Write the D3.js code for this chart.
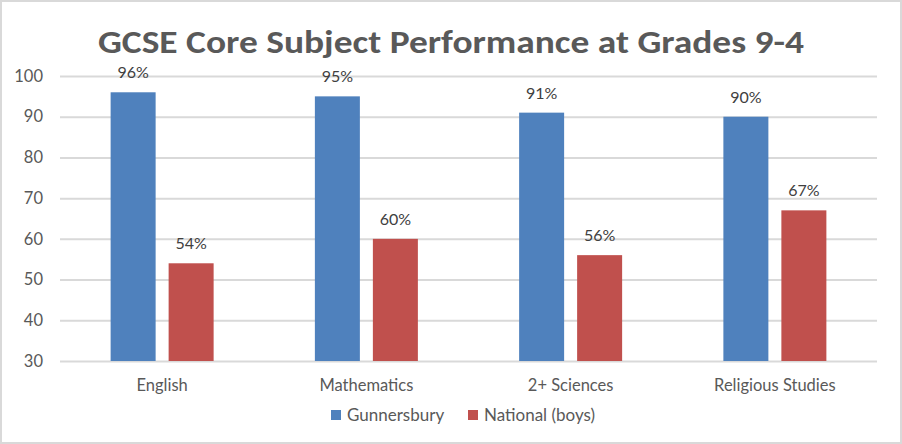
<!DOCTYPE html>
<html><head><meta charset="utf-8">
<script src="https://cdn.jsdelivr.net/npm/d3@7"></script>
<style>html,body{margin:0;padding:0;background:#fff;}svg{display:block;}</style>
</head><body>
<script>
const categories = ["English", "Mathematics", "2+ Sciences", "Religious Studies"];
const seriesNames = ["Gunnersbury", "National (boys)"];
const gunnersbury = [96, 95, 91, 90];
const national = [54, 60, 56, 67];
const yTicks = [30, 40, 50, 60, 70, 80, 90, 100];
const colors = ["#4F81BD", "#C0504D"];
const title = "GCSE Core Subject Performance at Grades 9-4";

const W = 902, H = 444;
const font = "Lato, 'Open Sans', sans-serif";
const svg = d3.select("body").append("svg").attr("width", W).attr("height", H);
svg.append("rect").attr("x", 1).attr("y", 1).attr("width", W - 2).attr("height", H - 2)
  .attr("fill", "#fff").attr("stroke", "#d9d9d9").attr("stroke-width", 2);

const plot = {left: 60, right: 877, top: 76, bottom: 361};
const x = d3.scaleBand().domain(categories).range([plot.left, plot.right]).paddingInner(0).paddingOuter(0);
const y = d3.scaleLinear().domain([30, 100]).range([plot.bottom, plot.top]);
const series = [gunnersbury, national];
const barW = 45, gap = 13;
const xs = d3.scaleBand().domain(seriesNames).range([0, barW * 2 + gap]).paddingInner(gap / (barW + gap)).paddingOuter(0);

// title
svg.append("text").attr("x", 451).attr("y", 53).attr("text-anchor", "middle")
  .attr("font-family", "Calibri, Carlito, 'Open Sans', sans-serif").attr("font-weight", "bold")
  .attr("font-size", 33).attr("fill", "#595959")
  .attr("textLength", 706).attr("lengthAdjust", "spacingAndGlyphs").text(title);

// gridlines
const yAxis = d3.axisLeft(y).tickValues(yTicks).tickSize(-(plot.right - plot.left)).tickPadding(17);
const ga = svg.append("g").attr("transform", `translate(${plot.left},0)`).call(yAxis);
ga.select(".domain").remove();
ga.selectAll(".tick line").attr("stroke", "#d9d9d9").attr("stroke-width", 2);
ga.selectAll(".tick text").attr("font-family", font).attr("font-size", 16.5).attr("fill", "#595959");

// bars
series.forEach((vals, si) => {
  const offset = (x.bandwidth() - (barW * 2 + gap)) / 2;
  svg.append("g").selectAll("rect").data(vals).join("rect")
    .attr("x", (d, i) => x(categories[i]) + offset + xs(seriesNames[si]))
    .attr("y", d => y(d))
    .attr("width", xs.bandwidth())
    .attr("height", d => y(30) - y(d))
    .attr("fill", colors[si]);
  svg.append("g").selectAll("text").data(vals).join("text")
    .attr("x", (d, i) => x(categories[i]) + offset + xs(seriesNames[si]) + xs.bandwidth() / 2)
    .attr("y", d => y(d) - 14)
    .attr("text-anchor", "middle")
    .attr("font-family", font).attr("font-size", 16).attr("fill", "#404040")
    .text(d => d + "%");
});

// x axis labels
const xAxis = d3.axisBottom(x).tickSize(0).tickPadding(18);
const gx = svg.append("g").attr("transform", `translate(0,${plot.bottom})`).call(xAxis);
gx.select(".domain").remove();
gx.selectAll(".tick text").attr("font-family", font).attr("font-size", 16.5).attr("fill", "#595959");

// legend
const legendX = [331, 468];
seriesNames.forEach((n, i) => {
  svg.append("rect").attr("x", legendX[i]).attr("y", 410).attr("width", 10).attr("height", 10).attr("fill", colors[i]);
  svg.append("text").attr("x", legendX[i] + 16).attr("y", 421).attr("font-family", font)
    .attr("font-size", 17).attr("fill", "#595959").text(n);
});
</script>
</body></html>
